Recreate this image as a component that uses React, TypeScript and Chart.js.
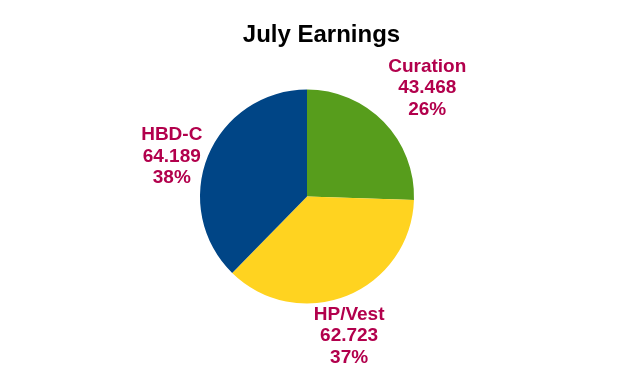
import React, { useEffect, useRef } from "react";
import { Chart, registerables } from "chart.js";

Chart.register(...registerables);

const title = "July Earnings";
const categories = ["Curation", "HP/Vest", "HBD-C"];
const values = [43.468, 62.723, 64.189];
const colors = ["#579d1c", "#ffd320", "#004586"];
const labelColor = "#b2004c";

const titlePlugin = {
  id: "customTitle",
  afterDraw(chart: any) {
    const ctx = chart.ctx;
    ctx.save();
    ctx.font = "bold 24px 'Liberation Sans', Arial, sans-serif";
    ctx.fillStyle = "#000000";
    ctx.textAlign = "center";
    ctx.textBaseline = "alphabetic";
    ctx.fillText(title, chart.width / 2, 42);
    ctx.restore();
  },
};

const labelPlugin = {
  id: "pieLabels",
  afterDatasetsDraw(chart: any) {
    const ctx = chart.ctx;
    const meta = chart.getDatasetMeta(0);
    const data = chart.data.datasets[0].data as number[];
    const total = data.reduce((a, b) => a + b, 0);
    const lineH = 21.5;
    ctx.save();
    ctx.font = "bold 19px 'Liberation Sans', Arial, sans-serif";
    ctx.fillStyle = labelColor;
    ctx.textAlign = "center";
    ctx.textBaseline = "middle";
    meta.data.forEach((arc: any, i: number) => {
      const p = arc.getProps(["x", "y", "startAngle", "endAngle", "outerRadius"], true);
      const mid = (p.startAngle + p.endAngle) / 2;
      const dx = Math.cos(mid);
      const dy = Math.sin(mid);
      const rr = p.outerRadius + 6;
      const ax = p.x + dx * rr;
      const ay = p.y + dy * rr;
      const lines = [
        String(chart.data.labels[i]),
        data[i].toFixed(3),
        Math.round((data[i] / total) * 100) + "%",
      ];
      const w = Math.max(...lines.map((l) => ctx.measureText(l).width));
      const h = lines.length * lineH;
      let cx = ax;
      let cy = ay;
      if (dx > 0.5) cx = ax + w / 2;
      else if (dx < -0.5) cx = ax - w / 2;
      if (dy > 0.5) cy = ay + h / 2;
      else if (dy < -0.5) cy = ay - h / 2;
      cy += 2.5;
      lines.forEach((l, k) => {
        ctx.fillText(l, cx, cy - h / 2 + lineH * (k + 0.5));
      });
    });
    ctx.restore();
  },
};

export default function App() {
  const ref = useRef<HTMLCanvasElement>(null);
  useEffect(() => {
    document.body.style.margin = "0";
    const chart = new Chart(ref.current!, {
      type: "pie",
      data: {
        labels: categories,
        datasets: [
          {
            data: values,
            backgroundColor: colors,
            borderWidth: 0,
          },
        ],
      },
      options: {
        animation: false,
        responsive: false,
        maintainAspectRatio: false,
        layout: { padding: { top: 89.5, bottom: 80.5, left: 0, right: 29 } },
        plugins: {
          legend: { display: false },
          title: { display: false },
          tooltip: { enabled: false },
        },
      },
      plugins: [titlePlugin, labelPlugin],
    });
    return () => chart.destroy();
  }, []);
  return (
    <div style={{ width: 643, height: 384, background: "#ffffff" }}>
      <canvas ref={ref} width={643} height={384} style={{ display: "block" }} />
    </div>
  );
}
